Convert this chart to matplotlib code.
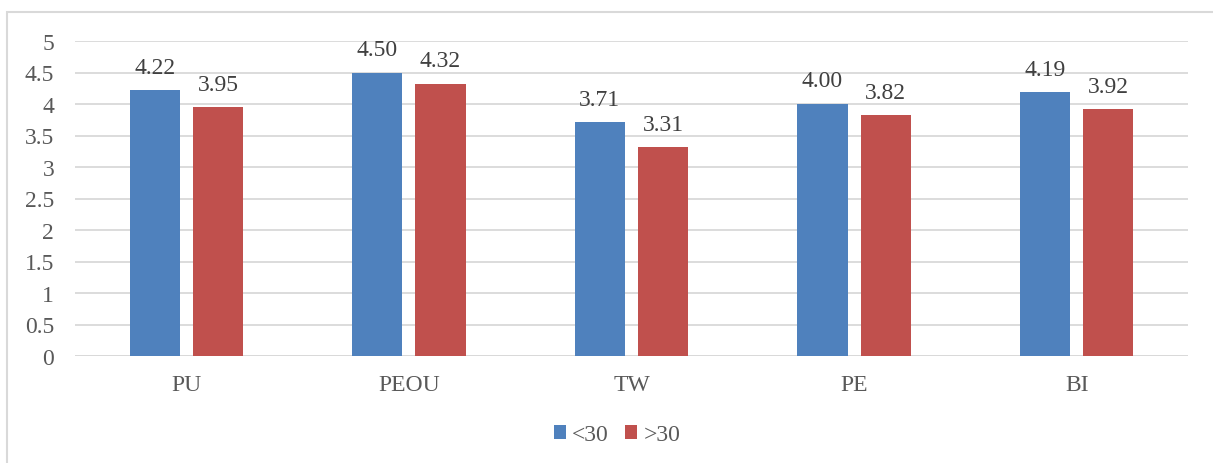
import numpy as np
import matplotlib
matplotlib.use("Agg")
import matplotlib.pyplot as plt
from matplotlib.patches import Rectangle

categories = ["PU", "PEOU", "TW", "PE", "BI"]
under_30 = [4.22, 4.50, 3.71, 4.00, 4.19]
over_30 = [3.95, 4.32, 3.31, 3.82, 3.92]
series_labels = ["<30", ">30"]
y_ticks = [0, 0.5, 1, 1.5, 2, 2.5, 3, 3.5, 4, 4.5, 5]

plt.rcParams['font.family'] = ['Liberation Serif', 'DejaVu Serif']

blue = "#4F81BD"
red = "#C0504D"
tick_color = "#595959"
label_color = "#404040"
fs = 17

fig = plt.figure(figsize=(12.13, 4.64), dpi=100)
ax = fig.add_axes([75 / 1213, 1 - 357 / 464, 1113 / 1213, 315 / 464])

# outer chart frame
fig.patches.append(Rectangle((7 / 1213, -0.1), 1.2, 1 - 13 / 464 + 0.1,
                             transform=fig.transFigure, fill=False,
                             edgecolor="#d9d9d9", linewidth=1.5))

x = np.arange(len(categories))
w = 0.225
off = 0.142
b1 = ax.bar(x - off, under_30, w, color=blue, label=series_labels[0], zorder=3)
b2 = ax.bar(x + off, over_30, w, color=red, label=series_labels[1], zorder=3)

for bars, vals in ((b1, under_30), (b2, over_30)):
    for rect, v in zip(bars, vals):
        ax.annotate(f"{v:.2f}", (rect.get_x() + rect.get_width() / 2, v),
                    xytext=(0, 9), textcoords="offset points",
                    ha="center", va="bottom", fontsize=fs, color=label_color)

ax.set_xlim(-0.5, len(categories) - 0.5)
ax.set_ylim(0, 5)
ax.set_yticks(y_ticks)
ax.set_yticklabels([f"{t:g}" for t in y_ticks])
ax.set_xticks(x)
ax.set_xticklabels(categories)
ax.tick_params(axis="both", length=0, labelsize=fs, labelcolor=tick_color)
ax.tick_params(axis="y", pad=15)
ax.tick_params(axis="x", pad=13)
ax.yaxis.grid(True, color="#d9d9d9", linewidth=1.3, zorder=0)
for s in ax.spines.values():
    s.set_visible(False)
ax.axhline(0, color="#d9d9d9", linewidth=1.3, zorder=1)

leg = fig.legend(loc="center", bbox_to_anchor=(617 / 1213, 1 - 436 / 464),
                 ncol=2, frameon=False, fontsize=fs, handlelength=0.52,
                 handleheight=0.52, handletextpad=0.25, columnspacing=0.7)
for t in leg.get_texts():
    t.set_color(tick_color)

fig.savefig("out.png", dpi=100)
